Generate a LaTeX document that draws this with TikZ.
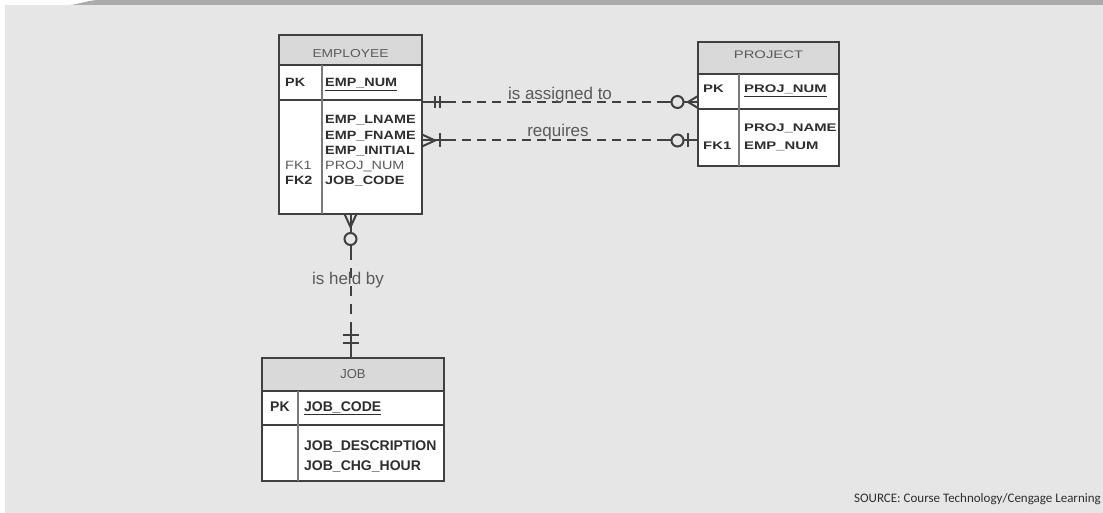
\documentclass[tikz,border=0pt]{standalone}
\usepackage{fontspec}
\setmainfont{Liberation Sans}
\newfontfamily\empfont[FakeStretch=1.2]{Liberation Sans}
\newfontfamily\projfont[FakeStretch=1.35]{Liberation Sans}
\newfontfamily\srcfont{Carlito}
\definecolor{bggray}{HTML}{E6E6E6}
\definecolor{bandgray}{HTML}{ABABAB}
\definecolor{headgray}{HTML}{D9D9D9}
\definecolor{linegray}{HTML}{404040}
\definecolor{divgray}{HTML}{7A7A7A}
\definecolor{txtdark}{HTML}{2E2E2E}
\definecolor{txtgray}{HTML}{5A5A5A}

\begin{document}
\begin{tikzpicture}[x=1pt, y=-1pt,
	entbox/.style={draw=linegray, line width=1.7pt, fill=white, anchor=north west, inner sep=0pt, outer sep=0pt},
	enthead/.style={entbox, fill=headgray},
	divline/.style={draw=divgray, line width=1.5pt},
	attr/.style={anchor=base west, inner sep=0pt, text=txtdark},
	title/.style={anchor=base, inner sep=0pt, text=txtgray},
	rel/.style={draw=linegray, line width=2pt},
	reldash/.style={rel, dash pattern=on 9pt off 6pt},
	rellabel/.style={inner sep=0pt, text=txtgray, font=\fontsize{17}{19}\selectfont}]
	% background
	\useasboundingbox (0,0) rectangle (1103,513);
	\fill[white] (0,0) rectangle (1103,513);
	\fill[bggray] (5,5) rectangle (1103,513);
	\fill[bandgray] (70,5) .. controls (80,4) and (88,0) .. (100,0) -- (1103,0) -- (1103,5) -- cycle;

	% EMPLOYEE
	\node[enthead, minimum width=143pt, minimum height=30pt] (emp-head) at (279,35) {};
	\node[entbox, minimum width=143pt, minimum height=35pt] (emp-pk) at (emp-head.south west) {};
	\node[entbox, minimum width=143pt, minimum height=114pt] (emp-body) at (emp-pk.south west) {};
	\draw[divline] ([xshift=43pt]emp-pk.north west) -- ([xshift=43pt]emp-body.south west);
	\node[title, font=\empfont\fontsize{11.5}{13}\selectfont] (emp-title) at (350.5,58) {EMPLOYEE};
	\node[attr, font=\empfont\fontsize{12}{13}\selectfont\bfseries] (emp-pk-key) at (285,87) {PK};
	\node[attr, font=\empfont\fontsize{12}{13}\selectfont\bfseries] (emp-num) at (325,87) {\underline{EMP\_NUM}};
	\node[attr, font=\empfont\fontsize{12}{13}\selectfont\bfseries] (emp-lname) at (325,124) {EMP\_LNAME};
	\node[attr, font=\empfont\fontsize{12}{13}\selectfont\bfseries] (emp-fname) at (325,139.5) {EMP\_FNAME};
	\node[attr, font=\empfont\fontsize{12}{13}\selectfont\bfseries] (emp-initial) at (325,154.5) {EMP\_INITIAL};
	\node[attr, text=txtgray, font=\empfont\fontsize{12}{13}\selectfont] (emp-proj) at (325,170) {PROJ\_NUM};
	\node[attr, font=\empfont\fontsize{12}{13}\selectfont\bfseries] (emp-job) at (325,185) {JOB\_CODE};
	\node[attr, text=txtgray, font=\empfont\fontsize{12}{13}\selectfont] (emp-fk1) at (285,170) {FK1};
	\node[attr, font=\empfont\fontsize{12}{13}\selectfont\bfseries] (emp-fk2) at (285,185) {FK2};

	% PROJECT
	\node[enthead, minimum width=141pt, minimum height=32pt] (proj-head) at (698,42) {};
	\node[entbox, minimum width=141pt, minimum height=35pt] (proj-pk) at (proj-head.south west) {};
	\node[entbox, minimum width=141pt, minimum height=57pt] (proj-body) at (proj-pk.south west) {};
	\draw[divline] ([xshift=41pt]proj-pk.north west) -- ([xshift=41pt]proj-body.south west);
	\node[title, font=\projfont\fontsize{11}{13}\selectfont] (proj-title) at (768.5,59) {PROJECT};
	\node[attr, font=\projfont\fontsize{11}{13}\selectfont\bfseries] (proj-pk-key) at (703,93) {PK};
	\node[attr, font=\projfont\fontsize{11}{13}\selectfont\bfseries] (proj-num) at (744,93) {\underline{PROJ\_NUM}};
	\node[attr, font=\projfont\fontsize{11}{13}\selectfont\bfseries] (proj-name) at (744,131.5) {PROJ\_NAME};
	\node[attr, font=\projfont\fontsize{11}{13}\selectfont\bfseries] (proj-emp) at (744,150) {EMP\_NUM};
	\node[attr, font=\projfont\fontsize{11}{13}\selectfont\bfseries] (proj-fk1) at (703,150) {FK1};

	% JOB
	\node[enthead, minimum width=182pt, minimum height=33pt] (job-head) at (262,358) {};
	\node[entbox, minimum width=182pt, minimum height=34pt] (job-pk) at (job-head.south west) {};
	\node[entbox, minimum width=182pt, minimum height=56pt] (job-body) at (job-pk.south west) {};
	\draw[divline] ([xshift=36pt]job-pk.north west) -- ([xshift=36pt]job-body.south west);
	\node[title, font=\fontsize{13}{15}\selectfont] (job-title) at (353,378) {JOB};
	\node[attr, font=\fontsize{14}{16}\selectfont\bfseries] (job-pk-key) at (270,411) {PK};
	\node[attr, font=\fontsize{14}{16}\selectfont\bfseries] (job-code) at (304,411) {\underline{JOB\_CODE}};
	\node[attr, font=\fontsize{14}{16}\selectfont\bfseries] (job-desc) at (304,450) {JOB\_DESCRIPTION};
	\node[attr, font=\fontsize{14}{16}\selectfont\bfseries] (job-hour) at (304,470) {JOB\_CHG\_HOUR};

	% is assigned to
	\coordinate (asgA) at ([yshift=-2pt]emp-pk.south east);
	\coordinate (asgB) at (asgA -| proj-pk.west);
	\draw[rel] (asgA) -- ([xshift=25pt]asgA);
	\draw[reldash] ([xshift=25pt]asgA) -- ([xshift=-33pt]asgB);
	\draw[rel] ([xshift=-33pt]asgB) -- (asgB);
	\draw[rel] ([xshift=13pt,yshift=6pt]asgA) -- ([xshift=13pt,yshift=-6pt]asgA);
	\draw[rel] ([xshift=18pt,yshift=6pt]asgA) -- ([xshift=18pt,yshift=-6pt]asgA);
	\draw[rel] ([yshift=6pt]asgB) -- ([xshift=-10pt]asgB) -- ([yshift=-6pt]asgB);
	\draw[rel, fill=bggray] ([xshift=-20.5pt]asgB) circle (6pt);
	\node[rellabel] (asg-lbl) at (560,95) {is assigned to};

	% requires
	\coordinate (reqB) at ([yshift=-3pt]proj-body.west);
	\coordinate (reqA) at (reqB -| emp-body.east);
	\draw[rel] (reqA) -- ([xshift=25pt]reqA);
	\draw[reldash] ([xshift=25pt]reqA) -- ([xshift=-33pt]reqB);
	\draw[rel] ([xshift=-33pt]reqB) -- (reqB);
	\draw[rel] ([yshift=6pt]reqA) -- ([xshift=13pt]reqA) -- ([yshift=-6pt]reqA);
	\draw[rel] ([xshift=18pt,yshift=7pt]reqA) -- ([xshift=18pt,yshift=-7pt]reqA);
	\draw[rel] ([xshift=-10pt,yshift=7pt]reqB) -- ([xshift=-10pt,yshift=-7pt]reqB);
	\draw[rel, fill=bggray] ([xshift=-20.5pt]reqB) circle (6pt);
	\node[rellabel] (req-lbl) at (558,132) {requires};

	% is held by
	\coordinate (heldA) at (emp-body.south);
	\coordinate (heldB) at (heldA |- job-head.north);
	\draw[rel] ([xshift=-6pt]heldA) -- ([yshift=-13pt]heldA) -- ([xshift=6pt]heldA);
	\draw[rel] (heldA) -- ([yshift=-36pt]heldA);
	\draw[reldash, dash pattern=on 10pt off 8pt] ([yshift=-36pt]heldA) -- ([yshift=28pt]heldB);
	\draw[rel] ([yshift=28pt]heldB) -- (heldB);
	\draw[rel, fill=bggray] ([yshift=-25pt]heldA) circle (6pt);
	\draw[rel] ([xshift=-8pt,yshift=23pt]heldB) -- ([xshift=8pt,yshift=23pt]heldB);
	\draw[rel] ([xshift=-8pt,yshift=15pt]heldB) -- ([xshift=8pt,yshift=15pt]heldB);
	\node[rellabel] (held-lbl) at (348,280) {is held by};

	\node[anchor=base east, inner sep=0pt, text=txtdark, font=\srcfont\fontsize{13}{15}\selectfont] (source) at (1101,502) {SOURCE: Course Technology/Cengage Learning};
\end{tikzpicture}
\end{document}
